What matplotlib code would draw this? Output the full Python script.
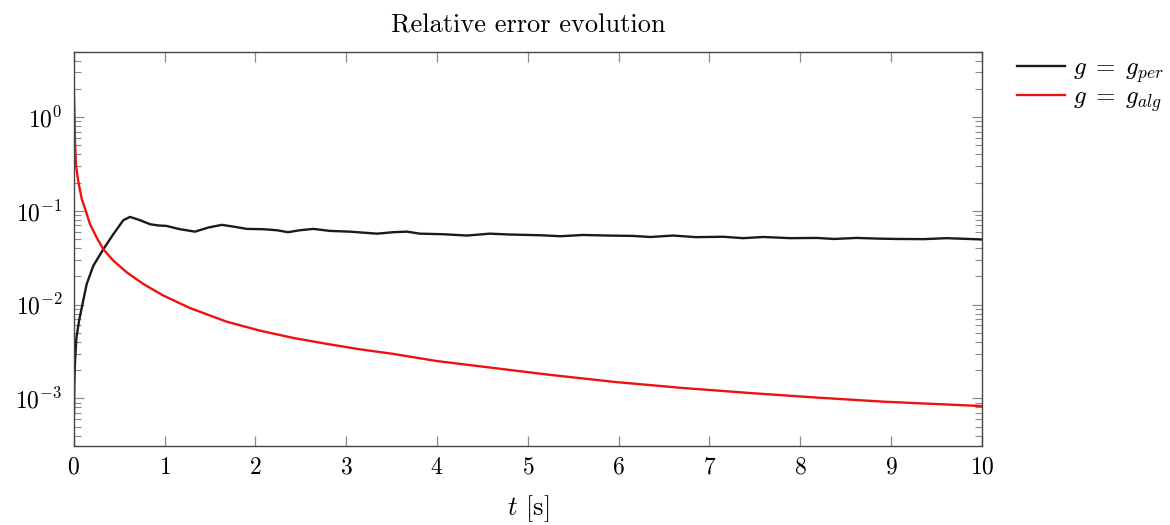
import matplotlib
matplotlib.use("Agg")
import matplotlib.pyplot as plt
from matplotlib.ticker import LogLocator, NullFormatter, MultipleLocator

plt.rcParams['font.family'] = 'serif'
plt.rcParams['font.serif'] = ['cmr10']
plt.rcParams['mathtext.fontset'] = 'cm'
plt.rcParams['axes.formatter.use_mathtext'] = True

# g = g_per
t_per = [0.003, 0.007, 0.014, 0.029, 0.06, 0.10, 0.143, 0.216, 0.326, 0.436,
         0.546, 0.62, 0.73, 0.84, 0.93, 1.02, 1.17, 1.336, 1.48, 1.63,
         1.776, 1.905, 2.088, 2.236, 2.36, 2.49, 2.64, 2.82, 3.04, 3.19,
         3.34, 3.52, 3.67, 3.81, 4.07, 4.33, 4.58, 4.80, 5.14, 5.36,
         5.61, 5.87, 6.16, 6.35, 6.6, 6.85, 7.15, 7.37, 7.59, 7.89,
         8.18, 8.37, 8.62, 8.84, 9.06, 9.36, 9.61, 10.0]
e_per = [6.9e-4, 1.44e-3, 2.4e-3, 4.4e-3, 6.8e-3, 0.0105, 0.0166, 0.026, 0.039, 0.0564,
         0.0796, 0.0863, 0.0796, 0.0721, 0.0700, 0.0692, 0.0638, 0.0601, 0.0664, 0.071,
         0.0676, 0.0643, 0.0638, 0.0622, 0.0593, 0.0622, 0.0643, 0.0612, 0.0601, 0.0586,
         0.0572, 0.0593, 0.0601, 0.0572, 0.0564, 0.0546, 0.0572, 0.0560, 0.0550, 0.0537,
         0.0554, 0.0546, 0.0541, 0.0527, 0.0546, 0.0525, 0.0530, 0.0512, 0.0527, 0.0512,
         0.0515, 0.0502, 0.0515, 0.0507, 0.0502, 0.0500, 0.0512, 0.0496]

# g = g_alg
t_alg = [0.0, 0.007, 0.014, 0.025, 0.051, 0.088, 0.124, 0.18, 0.253, 0.326,
         0.436, 0.584, 0.767, 0.987, 1.28, 1.68, 2.05, 2.42, 2.79, 3.15,
         3.52, 4.0, 5.25, 5.98, 6.71, 7.45, 8.18, 8.92, 10.0]
e_alg = [2.23, 1.24, 0.545, 0.308, 0.204, 0.135, 0.106, 0.072, 0.0519, 0.039,
         0.0295, 0.0221, 0.0166, 0.0125, 0.0092, 0.0066, 0.00528, 0.00441, 0.00381, 0.00334,
         0.00298, 0.00250, 0.00178, 0.00149, 0.00129, 0.00114, 0.00102, 0.000922, 0.000828]

fig = plt.figure(figsize=(11.7, 5.25), dpi=100)
ax = fig.add_axes([0.063, 0.1511, 0.7763, 0.7505])

ax.plot(t_per, e_per, color='#1a1a1a', lw=1.7, label=r'$g\;=\;g_{per}$')
ax.plot(t_alg, e_alg, color='#ee1111', lw=1.7, label=r'$g\;=\;g_{alg}$')

ax.set_yscale('log')
ax.set_xlim(0, 10)
ax.set_ylim(3.13e-4, 5)
ax.xaxis.set_major_locator(MultipleLocator(1))
ax.yaxis.set_major_locator(LogLocator(base=10, numticks=10))
ax.yaxis.set_minor_locator(LogLocator(base=10, subs=range(2, 10), numticks=20))
ax.yaxis.set_minor_formatter(NullFormatter())

ax.tick_params(which='both', direction='in', top=True, right=True,
               color='#8c8c8c', labelsize=17)
ax.tick_params(which='major', length=7, width=0.9, pad=8)
ax.tick_params(which='minor', length=5, width=0.8)
for s in ax.spines.values():
    s.set_color('#444444')
    s.set_linewidth(1.0)

ax.set_title('Relative error evolution', fontsize=19, pad=14)
ax.set_xlabel(r'$t$ [s]', fontsize=19, labelpad=10)

fig.legend(loc='upper left', bbox_to_anchor=(1017 / 1170, 1 - 57 / 525),
           frameon=False, fontsize=18, borderpad=0, borderaxespad=0,
           handlelength=1.9, handletextpad=0.35, labelspacing=0.05)

fig.savefig('out.png', dpi=100)
